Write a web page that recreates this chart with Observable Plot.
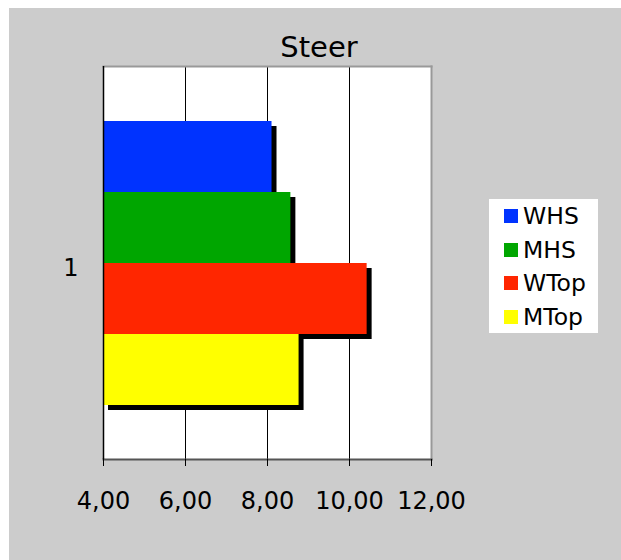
<!DOCTYPE html>
<html>
<head>
<meta charset="utf-8">
<script src="https://cdn.jsdelivr.net/npm/d3@7"></script>
<script src="https://cdn.jsdelivr.net/npm/@observablehq/plot@0.6"></script>
<style>
  html, body { margin: 0; padding: 0; background: #ffffff; }
  body { width: 621px; height: 560px; position: relative; overflow: hidden; font-family: "DejaVu Sans", Verdana, sans-serif; }
  #panel { position: absolute; left: 9px; top: 8px; width: 612px; height: 552px; background: #cccccc; }
  #title { position: absolute; left: 0; top: 22px; width: 620px; text-align: center; font-size: 29px; line-height: 34px; color: #000; }
  #legend { position: absolute; left: 480px; top: 191px; width: 109px; height: 134px; background: #ffffff; }
  .row { position: absolute; left: 15px; height: 26px; display: flex; align-items: center; font-size: 23.5px; color: #000; }
  .sw { width: 14px; height: 14px; margin-right: 5px; }
  #chart { position: absolute; left: 0; top: 0; }
</style>
</head>
<body>
<div id="panel">
  <div id="chart"></div>
  <div id="title">Steer</div>
  <div id="legend"></div>
</div>
<script>
const series = ["WHS", "MHS", "WTop", "MTop"];
const values = [8.11, 8.57, 10.43, 8.77];
const colors = ["#0033ff", "#00a600", "#ff2600", "#ffff00"];
const categoryLabels = ["1"];
const xTicks = [4, 6, 8, 10, 12];
const gridValues = [6, 8, 10];

const data = series.map((s, i) => ({series: s, value: values[i], color: colors[i]}));

const chart = Plot.plot({
  width: 612,
  height: 552,
  marginLeft: 94,
  marginRight: 190,
  marginTop: 58,
  marginBottom: 101,
  style: {background: "transparent", fontFamily: "DejaVu Sans, Verdana, sans-serif"},
  x: {domain: [4, 12], axis: null, label: null},
  y: {type: "band", domain: series, paddingInner: 0, paddingOuter: 0.74, axis: null, label: null},
  marks: [
    Plot.frame({fill: "white", stroke: null}),
    Plot.ruleX(gridValues, {stroke: "black", strokeWidth: 1}),
    Plot.barX(data, {y: "series", x1: 4, x2: "value", fill: "black", dx: 5, dy: 5}),
    Plot.barX(data, {y: "series", x1: 4, x2: "value", fill: "color"}),
    Plot.frame({anchor: "top", stroke: "#999999", strokeWidth: 2}),
    Plot.frame({anchor: "right", stroke: "#999999", strokeWidth: 2}),
    Plot.frame({anchor: "bottom", stroke: "#555555", strokeWidth: 2}),
    Plot.ruleX([4], {stroke: "black", strokeWidth: 1.5}),
    Plot.axisX({ticks: xTicks, tickSize: 7, tickPadding: 25, fontSize: 24, stroke: "black", label: null,
      tickFormat: d => d.toFixed(2).replace(".", ",")}),
    Plot.text(categoryLabels, {text: d => d, frameAnchor: "left", dx: -25, dy: 5, textAnchor: "end", fontSize: 24, fill: "black"})
  ]
});
document.getElementById("chart").appendChild(chart);

const legend = document.getElementById("legend");
series.forEach((s, i) => {
  const row = document.createElement("div");
  row.className = "row";
  row.style.top = (4 + i * 33.7) + "px";
  const sw = document.createElement("div");
  sw.className = "sw";
  sw.style.background = colors[i];
  const label = document.createElement("span");
  label.textContent = s;
  row.appendChild(sw);
  row.appendChild(label);
  legend.appendChild(row);
});
</script>
</body>
</html>
